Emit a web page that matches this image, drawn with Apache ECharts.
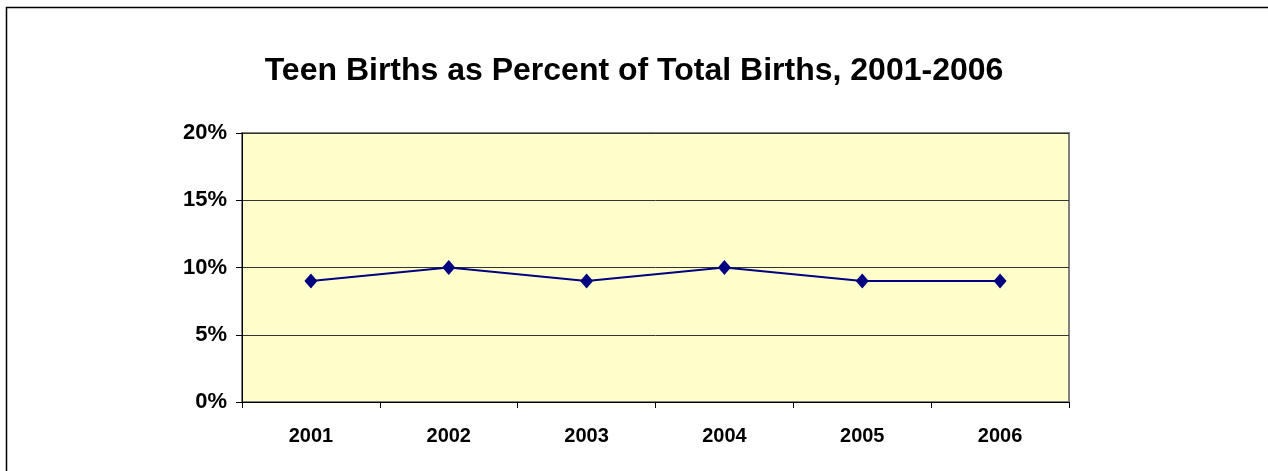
<!DOCTYPE html>
<html>
<head>
<meta charset="utf-8">
<script src="https://cdn.jsdelivr.net/npm/echarts@6/dist/echarts.min.js"></script>
<style>
  html, body { margin: 0; padding: 0; background: #fff; }
  #main { width: 1268px; height: 471px; }
</style>
</head>
<body>
<div id="main"></div>
<script>
// data
var years = ['2001', '2002', '2003', '2004', '2005', '2006'];
var teenPct = [9, 10, 9, 10, 9, 9];   // percent of total births
var yTicks = [0, 5, 10, 15, 20];

var myChart = echarts.init(document.getElementById('main'));

var option = {
  backgroundColor: '#fff',
  animation: false,
  title: {
    text: 'Teen Births as Percent of Total Births, 2001-2006',
    left: 'center',
    top: 50,
    textStyle: {
      fontFamily: 'Liberation Sans, Arial, sans-serif',
      fontSize: 32,
      fontWeight: 'bold',
      color: '#000'
    }
  },
  // outer frame (only the left and top edges fall inside the picture)
  graphic: [{
    type: 'rect',
    shape: { x: 6.5, y: 7.5, width: 1400, height: 600 },
    style: { fill: 'none', stroke: '#000', lineWidth: 1.5 },
    silent: true
  }],
  grid: {
    left: 242,
    right: 199,
    top: 133,
    bottom: 69,
    show: true,
    backgroundColor: '#FFFFCC',
    borderColor: '#808080',
    borderWidth: 2
  },
  xAxis: {
    type: 'category',
    data: years,
    boundaryGap: true,
    axisLine: { show: true, lineStyle: { color: '#000', width: 1 } },
    axisTick: { show: true, length: 6, alignWithLabel: false, lineStyle: { color: '#000' } },
    axisLabel: {
      margin: 24,
      fontFamily: 'Liberation Sans, Arial, sans-serif',
      fontSize: 20,
      fontWeight: 'bold',
      color: '#000'
    },
    splitLine: { show: false }
  },
  yAxis: {
    type: 'value',
    min: yTicks[0],
    max: yTicks[yTicks.length - 1],
    interval: 5,
    axisLine: { show: true, lineStyle: { color: '#000', width: 1 } },
    axisTick: { show: true, length: 6, lineStyle: { color: '#000' } },
    axisLabel: {
      formatter: '{value}%',
      margin: 15,
      fontFamily: 'Liberation Sans, Arial, sans-serif',
      fontSize: 22,
      fontWeight: 'bold',
      color: '#000'
    },
    splitLine: { show: true, lineStyle: { color: '#333', width: 1 } }
  },
  series: [{
    name: 'Teen births',
    type: 'line',
    data: teenPct,
    symbol: 'diamond',
    symbolSize: [13, 15],
    itemStyle: { color: '#000080' },
    lineStyle: { color: '#000080', width: 2 }
  }]
};

myChart.setOption(option);
</script>
</body>
</html>
